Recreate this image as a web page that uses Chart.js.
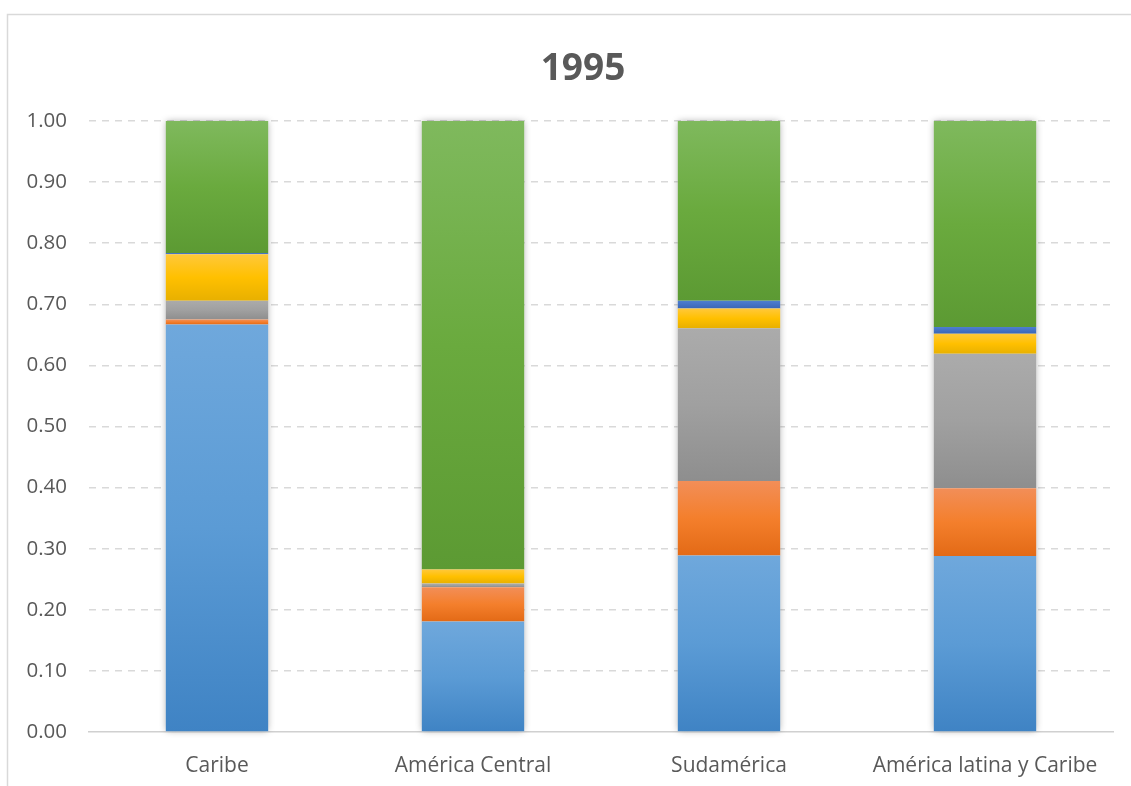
<!DOCTYPE html>
<html>
<head>
<meta charset="utf-8">
<script src="https://cdn.jsdelivr.net/npm/chart.js@4"></script>
<style>
  html, body { margin: 0; padding: 0; background: #fff; }
  #wrap { width: 1131px; height: 786px; }
</style>
</head>
<body>
<div id="wrap"><canvas id="chart1995"></canvas></div>
<script>
// data (shares, stacked to 1.00)
const categories = ['Caribe', 'América Central', 'Sudamérica', 'América latina y Caribe'];
const azul       = [0.667, 0.181, 0.289, 0.288];
const naranja    = [0.008, 0.056, 0.122, 0.111];
const gris       = [0.031, 0.006, 0.250, 0.220];
const amarillo   = [0.076, 0.023, 0.032, 0.033];
const azulOscuro = [0.002, 0.000, 0.013, 0.011];
const verde      = [0.216, 0.734, 0.294, 0.337];
const yTicks     = [0, 0.1, 0.2, 0.3, 0.4, 0.5, 0.6, 0.7, 0.8, 0.9, 1.0];
const titleText  = '1995';

const textColor = '#595959';
const fontFamily = '"Open Sans", Lato, sans-serif';

// vertical gradient per segment, lighter on top
function gradientFill(top, mid, bottom) {
  return (ctx) => {
    const chart = ctx.chart;
    if (!chart.chartArea || ctx.type !== 'data') return mid;
    const y = chart.scales.y;
    let base = 0;
    for (let d = 0; d < ctx.datasetIndex; d++) {
      base += chart.data.datasets[d].data[ctx.dataIndex];
    }
    const v = chart.data.datasets[ctx.datasetIndex].data[ctx.dataIndex];
    const y0 = y.getPixelForValue(base + v);
    const y1 = y.getPixelForValue(base);
    if (!(y1 - y0 > 0.5)) return mid;
    const g = chart.ctx.createLinearGradient(0, y0, 0, y1);
    g.addColorStop(0, top);
    g.addColorStop(0.5, mid);
    g.addColorStop(1, bottom);
    return g;
  };
}

// outer frame + title (Excel puts the title a bit right of the canvas centre)
const framePlugin = {
  id: 'frame',
  beforeDraw(chart) {
    const c = chart.ctx;
    c.save();
    c.fillStyle = '#fff';
    c.fillRect(0, 0, chart.width, chart.height);
    c.strokeStyle = '#d9d9d9';
    c.lineWidth = 1.5;
    c.strokeRect(7.5, 14.5, chart.width, chart.height);
    c.fillStyle = textColor;
    c.font = 'bold 37px ' + fontFamily;
    c.textAlign = 'center';
    c.textBaseline = 'middle';
    c.fillText(titleText, 583, 69);
    c.restore();
  }
};

// soft shadow behind each stacked bar
const shadowPlugin = {
  id: 'barShadow',
  beforeDatasetsDraw(chart) {
    const first = chart.getDatasetMeta(0).data;
    const last = chart.getDatasetMeta(chart.data.datasets.length - 1).data;
    const c = chart.ctx;
    c.save();
    c.shadowColor = 'rgba(0,0,0,0.35)';
    c.shadowBlur = 7;
    c.fillStyle = '#fff';
    first.forEach((bar, i) => {
      const top = last[i].y;
      const w = bar.width;
      c.fillRect(bar.x - w / 2, top, w, bar.base - top);
    });
    c.restore();
  }
};

const makeSet = (label, data, top, mid, bottom) => ({
  label,
  data,
  backgroundColor: gradientFill(top, mid, bottom),
  borderWidth: 0,
  barPercentage: 0.4,
  categoryPercentage: 1.0
});

new Chart(document.getElementById('chart1995'), {
  type: 'bar',
  data: {
    labels: categories,
    datasets: [
      makeSet('azul', azul, '#6fa8dc', '#5b9bd5', '#3f83c4'),
      makeSet('naranja', naranja, '#f28e58', '#f47f2c', '#e36a16'),
      makeSet('gris', gris, '#ababab', '#a0a0a0', '#8e8e8e'),
      makeSet('amarillo', amarillo, '#ffc83a', '#ffc000', '#e8b000'),
      makeSet('azul oscuro', azulOscuro, '#4f7fd0', '#4472c4', '#3a66b5'),
      makeSet('verde', verde, '#7fb95d', '#6aaa3e', '#5c9a33')
    ]
  },
  options: {
    responsive: true,
    maintainAspectRatio: false,
    animation: false,
    layout: { padding: { left: 0, right: 18, top: 121, bottom: 0 } },
    plugins: {
      legend: { display: false },
      tooltip: { enabled: false },
      title: { display: false }
    },
    scales: {
      x: {
        stacked: true,
        grid: { display: false },
        border: { display: true, color: '#d0d0d0', width: 1.5 },
        ticks: {
          color: textColor,
          font: { family: fontFamily, size: 21 },
          padding: 13,
          maxRotation: 0
        },
        afterFit(s) { s.height = 54; }
      },
      y: {
        stacked: true,
        min: 0,
        max: 1,
        afterBuildTicks(s) { s.ticks = yTicks.map(v => ({ value: v })); },
        grid: {
          color: (ctx) => (ctx.tick && ctx.tick.value === 0) ? 'rgba(0,0,0,0)' : '#d9d9d9',
          lineWidth: 1.5,
          drawTicks: false
        },
        border: { display: false, dash: [7, 6] },
        ticks: {
          color: textColor,
          font: { family: fontFamily, size: 20.5 },
          padding: 22,
          callback: (v) => Number(v).toFixed(2)
        },
        afterFit(s) { s.width = 89; }
      }
    }
  },
  plugins: [framePlugin, shadowPlugin]
});
</script>
</body>
</html>
